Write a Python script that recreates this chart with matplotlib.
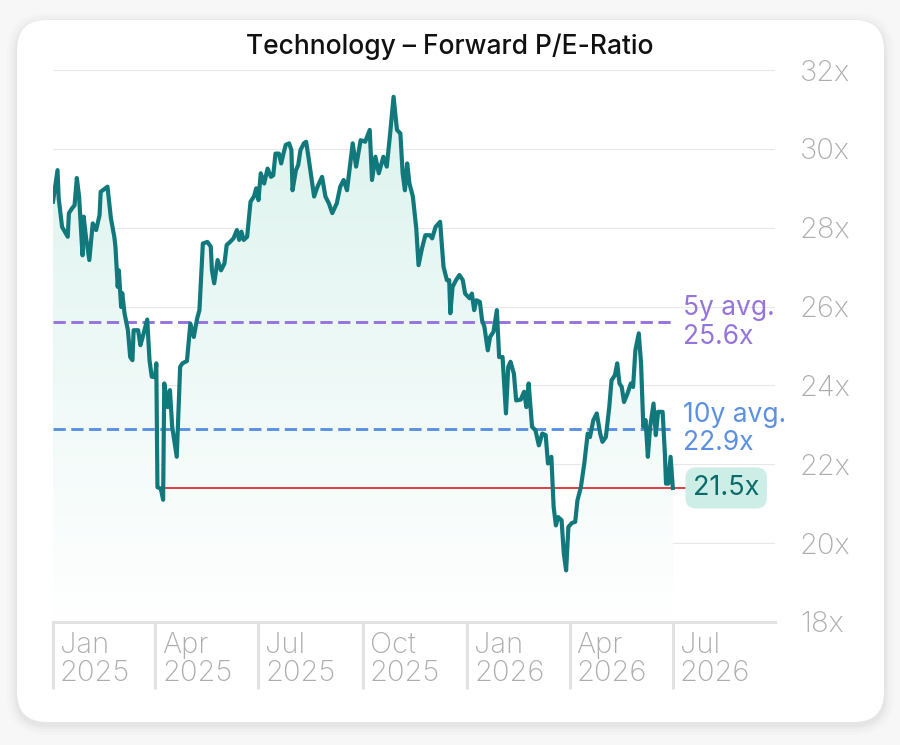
import numpy as np
import pandas as pd
import matplotlib
matplotlib.use("Agg")
import matplotlib.pyplot as plt
import matplotlib.dates as mdates
from matplotlib.patches import FancyBboxPatch
from matplotlib.transforms import IdentityTransform
from matplotlib.colors import LinearSegmentedColormap

plt.rcParams['font.family'] = ['Inter', 'DejaVu Sans']

# ---- data ----
title = "Technology \u2013 Forward P/E-Ratio"
start_date = "2025-01-01"

# days since start_date
day_offset = [
    0, 4, 5, 8, 13, 14, 17, 19, 21, 23, 26, 27, 29, 32, 35, 38, 41, 42, 48, 51,
    54, 55, 57, 58, 60, 61, 63, 66, 68, 70, 71, 75, 77, 79, 83, 85, 87, 90, 91, 92,
    95, 97, 98, 101, 103, 105, 109, 112, 114, 118, 121, 124, 127, 129, 132, 136, 139, 140, 142, 145,
    148, 151, 153, 156, 159, 162, 164, 166, 168, 171, 174, 177, 179, 181, 183, 186, 189, 192, 194, 196,
    199, 201, 203, 205, 208, 210, 211, 214, 216, 218, 221, 223, 225, 230, 233, 237, 240, 243, 246, 250,
    253, 256, 259, 264, 267, 271, 275, 279, 281, 284, 287, 291, 294, 297, 300, 303, 306, 308, 310, 312,
    314, 317, 320, 322, 325, 328, 332, 334, 337, 341, 344, 347, 349, 350, 352, 355, 358, 361, 363, 367,
    369, 371, 373, 376, 378, 380, 383, 385, 388, 391, 393, 396, 399, 401, 403, 406, 408, 412, 415, 417,
    419, 422, 425, 428, 431, 434, 436, 439, 441, 443, 445, 448, 450, 452, 454, 457, 460, 462, 465, 468,
    471, 473, 476, 479, 482, 484, 487, 490, 492, 495, 497, 499, 501, 503, 506, 509, 511, 513, 516, 518,
    520, 522, 524, 526, 529, 531, 533, 537, 539, 540, 542, 544, 546,
]
forward_pe = [
    28.66, 29.46, 28.75, 28.02, 27.77, 28.37, 28.50, 28.57, 29.26, 28.78, 27.30, 28.28, 27.77, 27.18, 28.11, 27.94, 28.32, 28.91, 29.04, 28.24,
    27.77, 27.52, 26.50, 26.92, 25.99, 26.34, 25.83, 25.40, 24.72, 24.64, 25.40, 25.40, 25.02, 25.23, 25.67, 24.64, 24.22, 24.21, 24.56, 21.42,
    21.38, 21.10, 24.05, 23.45, 23.88, 22.95, 22.19, 24.47, 24.56, 24.62, 25.57, 25.23, 25.70, 25.91, 27.60, 27.64, 27.52, 26.92, 26.59, 27.18,
    26.92, 27.09, 27.56, 27.64, 27.73, 27.94, 27.69, 27.90, 27.69, 27.77, 28.66, 28.79, 29.00, 28.70, 29.38, 29.12, 29.50, 29.29, 29.33, 29.88,
    29.88, 29.63, 29.88, 30.10, 30.14, 29.97, 28.95, 29.46, 29.59, 29.97, 30.14, 30.18, 29.80, 28.79, 29.04, 29.29, 28.79, 28.62, 28.37, 28.62,
    29.04, 29.21, 28.95, 30.14, 29.55, 30.22, 30.18, 30.48, 29.21, 29.80, 29.38, 29.80, 29.55, 30.39, 31.32, 30.48, 30.39, 29.38, 28.95, 29.63,
    29.12, 28.79, 27.98, 27.05, 27.47, 27.81, 27.81, 27.73, 28.02, 28.15, 27.01, 26.67, 26.67, 25.83, 26.50, 26.67, 26.80, 26.67, 26.33, 26.21,
    26.33, 25.91, 26.16, 26.12, 25.65, 25.49, 24.89, 25.23, 25.36, 25.91, 24.72, 24.72, 23.29, 24.47, 24.60, 24.30, 23.62, 23.64, 23.84, 23.45,
    24.05, 22.95, 22.86, 22.48, 22.78, 22.74, 22.02, 22.19, 20.92, 20.45, 20.66, 20.58, 19.73, 19.31, 20.41, 20.51, 20.54, 21.09, 21.42, 22.02,
    22.78, 22.69, 23.12, 23.29, 22.78, 22.57, 22.69, 23.45, 24.13, 24.26, 24.56, 24.05, 23.96, 23.58, 23.79, 24.05, 23.96, 24.89, 25.32, 24.56,
    22.95, 23.12, 22.19, 22.95, 23.54, 22.74, 23.33, 23.33, 22.27, 21.51, 21.51, 22.19, 21.40,
]
current_label = "21.5x"
avg_5y = 25.6
avg_10y = 22.9

tick_dates = ["2025-01-01", "2025-04-01", "2025-07-01", "2025-10-01",
              "2026-01-01", "2026-04-01", "2026-07-01"]
tick_labels = ["Jan\n2025", "Apr\n2025", "Jul\n2025", "Oct\n2025",
               "Jan\n2026", "Apr\n2026", "Jul\n2026"]
y_ticks = [18, 20, 22, 24, 26, 28, 30, 32]

# ---- colours ----
teal = "#11797c"
purple = "#9574dc"
blue = "#5b91e0"
red = "#d81e24"
grid_c = "#e7e7e7"
label_c = "#adadad"

dates = pd.Timestamp(start_date) + pd.to_timedelta(day_offset, unit="D")
x = mdates.date2num(dates)
y = np.array(forward_pe)

fig = plt.figure(figsize=(9, 7.45), dpi=100, facecolor="#f7f7f7")

# card + soft shadow (pixel coords), drawn below the axes
for g, a in [(10, 0.012), (7, 0.015), (4, 0.02), (2, 0.025)]:
    fig.patches.append(FancyBboxPatch((17 - g, 23 - g - 3), 867 + 2 * g, 702 + 2 * g,
                                      boxstyle="round,pad=0,rounding_size=%d" % (30 + g),
                                      transform=IdentityTransform(), facecolor="#000000",
                                      edgecolor="none", alpha=a, zorder=-3))
fig.patches.append(FancyBboxPatch((17, 23), 867, 702, boxstyle="round,pad=0,rounding_size=30",
                                  transform=IdentityTransform(), facecolor="white",
                                  edgecolor="none", zorder=-2))

ax = fig.add_axes([53 / 900, 1 - 622 / 745, 722 / 900, 552 / 745])
ax.set_facecolor("none")

x_end = mdates.date2num(pd.Timestamp(start_date) + pd.Timedelta(days=636))
x_start = mdates.date2num(pd.Timestamp(start_date))

# gradient area under the line
poly = ax.fill_between(x, y, 18, color="none", lw=0)
cmap = LinearSegmentedColormap.from_list("fade", ["#ffffff", "#dcf3ee"])
grad = np.linspace(1, 0, 256).reshape(-1, 1)
im = ax.imshow(grad, extent=[x_start, x_end, 18, y.max()], aspect="auto",
               cmap=cmap, vmin=0, vmax=1, zorder=1)
im.set_clip_path(poly.get_paths()[0], transform=ax.transData)

# average lines
ax.plot([x[0], x[-1]], [avg_5y, avg_5y], color=purple, lw=2.1, ls=(0, (4.2, 1.9)), zorder=2)
ax.plot([x[0], x[-1]], [avg_10y, avg_10y], color=blue, lw=2.1, ls=(0, (4.2, 1.9)), zorder=2)

# current level line, from first time it was reached
first_hit = np.argmax(y <= y[-1] + 0.05)
ax.plot([x[first_hit], x[-1] + 14], [y[-1], y[-1]], color=red, lw=1.2, zorder=3)

ax.plot(x, y, color=teal, lw=3.0, solid_joinstyle="round", zorder=4)

lab_x = (683 - 53) / 722
ax.text(lab_x, avg_5y, "5y avg.\n%.1fx" % avg_5y, transform=ax.get_yaxis_transform(),
        color=purple, fontsize=19, va="center", ha="left", linespacing=1.12, zorder=5)
ax.text(lab_x, avg_10y, "10y avg.\n%.1fx" % avg_10y, transform=ax.get_yaxis_transform(),
        color=blue, fontsize=19, va="center", ha="left", linespacing=1.12, zorder=5)
ax.text(lab_x + 10 / 722, y[-1], current_label, transform=ax.get_yaxis_transform(),
        color="#0c6b68", fontsize=19.5, va="center", ha="left", zorder=6,
        bbox=dict(boxstyle="round,pad=0.28,rounding_size=0.4", facecolor="#cdeee7", edgecolor="none"))

ax.set_xlim(x_start, x_end)
ax.set_ylim(18, 32)

ax.yaxis.tick_right()
ax.set_yticks(y_ticks)
ax.set_yticklabels(["%dx" % v for v in y_ticks], fontweight="light")
ax.tick_params(axis="y", length=0, pad=18, labelsize=21, labelcolor=label_c)
ax.grid(axis="y", color=grid_c, lw=0.8)
ax.set_axisbelow(True)

ax.set_xticks(mdates.date2num(pd.to_datetime(tick_dates)))
ax.set_xticklabels([])
ax.tick_params(axis="x", length=48, width=2.2, color="#e2e2e2", direction="out")
for d, lab in zip(pd.to_datetime(tick_dates), tick_labels):
    ax.annotate(lab, xy=(mdates.date2num(d), 0), xycoords=("data", "axes fraction"),
                xytext=(5, -7), textcoords="offset points", ha="left", va="top",
                fontsize=21, fontweight="light", color=label_c, linespacing=1.05,
                annotation_clip=False)

for s in ["top", "left", "right"]:
    ax.spines[s].set_visible(False)
ax.spines["bottom"].set_color("#e2e2e2")
ax.spines["bottom"].set_linewidth(2.2)

fig.text(0.5, 1 - 47 / 745, title, ha="center", va="center", fontsize=19,
         fontweight="medium", color="#111111")

fig.savefig("out.png", dpi=100, facecolor=fig.get_facecolor())
